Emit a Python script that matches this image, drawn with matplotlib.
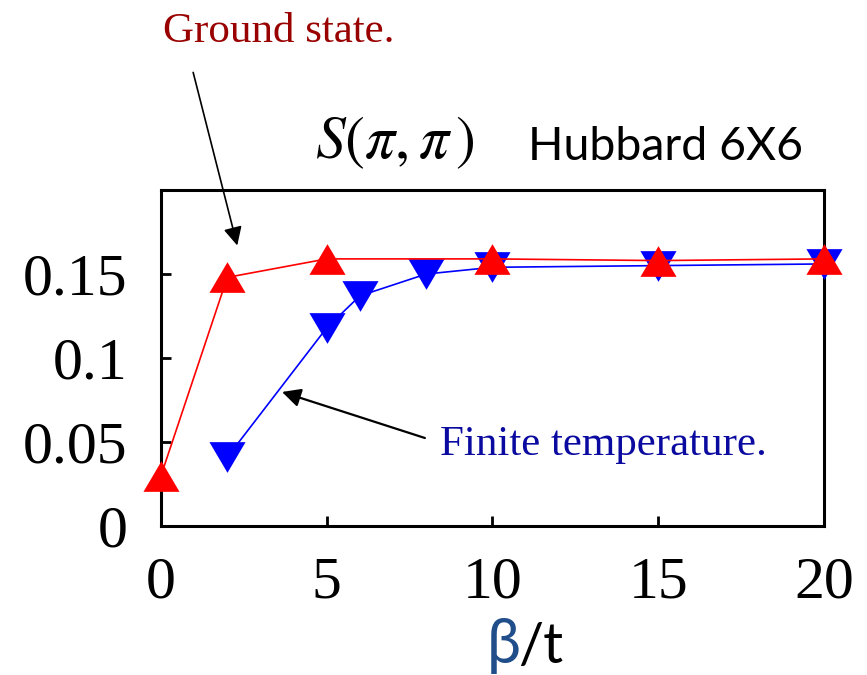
import matplotlib
matplotlib.use("Agg")
import matplotlib.pyplot as plt
import numpy as np

# ground state (red up-triangles) and finite temperature (blue down-triangles)
beta_ground = [0, 2, 5, 10, 15, 20]
s_ground = [0.030, 0.148, 0.159, 0.159, 0.158, 0.159]

beta_finite = [2, 5, 6, 8, 10, 15, 20]
s_finite = [0.041, 0.118, 0.137, 0.150, 0.154, 0.155, 0.156]

x_ticks = [0, 5, 10, 15, 20]
y_ticks = [0, 0.05, 0.1, 0.15]
y_tick_labels = ["0", "0.05", "0.1", "0.15"]

SERIF = ["Liberation Serif", "DejaVu Serif"]
SANS = ["Lato", "DejaVu Sans"]

plt.rcParams["mathtext.fontset"] = "stix"

fig = plt.figure(figsize=(8.67, 6.75), dpi=100)
ax = fig.add_axes([0.1857, 0.2207, 0.9504 - 0.1857, 0.7185 - 0.2207])

up_tri = [(0, 0.85), (-1, -0.85), (1, -0.85), (0, 0.85)]
down_tri = [(0, -0.85), (-1, 0.85), (1, 0.85), (0, -0.85)]

ax.plot(beta_finite, s_finite, color="#0000ff", lw=1.2, marker=down_tri,
        ms=26, mec="none", clip_on=False, zorder=3)
ax.plot(beta_ground, s_ground, color="#ff0000", lw=1.2, marker=up_tri,
        ms=26, mec="none", clip_on=False, zorder=4)

ax.set_xlim(0, 20)
ax.set_ylim(0, 0.2)
ax.set_xticks(x_ticks)
ax.set_yticks(y_ticks)
ax.set_yticklabels(y_tick_labels)
for lab in ax.get_xticklabels() + ax.get_yticklabels():
    lab.set_family(SERIF)
    lab.set_fontsize(43)
ax.tick_params(axis="both", direction="in", length=7, width=2)
ax.tick_params(axis="x", pad=22)
ax.tick_params(axis="y", pad=24)
for sp in ax.spines.values():
    sp.set_linewidth(2.2)

# titles and labels
fig.text(0.188, 0.938, "Ground state.", color="#990000", family=SERIF,
         fontsize=31, va="baseline", ha="left")
fig.text(0.5075, 0.326, "Finite temperature.", color="#0a0aa0", family=SERIF,
         fontsize=31, va="baseline", ha="left")
fig.text(0.363, 0.766, r"$S(\pi,\pi\,)$", fontsize=43, va="baseline", ha="left")
fig.text(0.609, 0.763, "Hubbard 6X6", family=SANS, fontsize=33.5,
         va="baseline", ha="left")
fig.text(0.561, 0.018, "β", color="#1f4e8a", family=SANS, fontsize=44,
         va="baseline", ha="left")
fig.text(0.598, 0.018, "/t", color="black", family=SANS, fontsize=40,
         va="baseline", ha="left")

# arrows pointing at the curves
ax.annotate("", xy=(2.3, 0.167), xytext=(0.97, 0.270), annotation_clip=False,
            arrowprops=dict(arrowstyle="-|>", color="black", lw=1.2,
                            mutation_scale=28, shrinkA=0, shrinkB=0))
ax.annotate("", xy=(3.65, 0.0798), xytext=(7.96, 0.0524), annotation_clip=False,
            arrowprops=dict(arrowstyle="-|>", color="black", lw=1.6,
                            mutation_scale=28, shrinkA=0, shrinkB=0))

fig.savefig("out.png", dpi=100)
